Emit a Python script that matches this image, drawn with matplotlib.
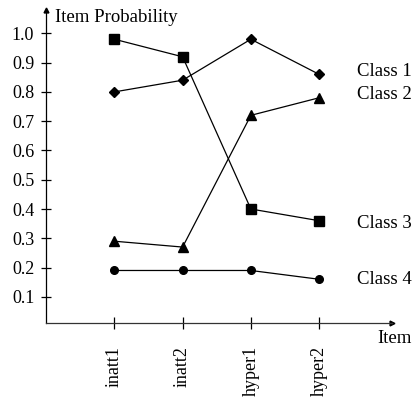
import numpy as np
import matplotlib
matplotlib.use("Agg")
from matplotlib import pyplot as plt

items = ['inatt1', 'inatt2', 'hyper1', 'hyper2']
class1 = [0.80, 0.84, 0.98, 0.86]
class2 = [0.29, 0.27, 0.72, 0.78]
class3 = [0.98, 0.92, 0.40, 0.36]
class4 = [0.19, 0.19, 0.19, 0.16]
class_names = ['Class 1', 'Class 2', 'Class 3', 'Class 4']
label_y = [0.87, 0.79, 0.35, 0.16]
yticks = [0.1, 0.2, 0.3, 0.4, 0.5, 0.6, 0.7, 0.8, 0.9, 1.0]

plt.rcParams['font.family'] = ['Liberation Serif', 'DejaVu Serif']

fig = plt.figure(figsize=(4.15, 3.98), dpi=100)
ax = fig.add_axes([0.111, 0.188, 0.834, 0.787])

x = np.arange(len(items))
ax.plot(x, class1, color='black', lw=0.9, marker='D', ms=5.5)
ax.plot(x, class2, color='black', lw=0.9, marker='^', ms=7)
ax.plot(x, class3, color='black', lw=0.9, marker='s', ms=6.5)
ax.plot(x, class4, color='black', lw=0.9, marker='o', ms=5.5)

for name, yy in zip(class_names, label_y):
    ax.text(3.56, yy, name, fontsize=13.5, va='center', ha='left')

ax.set_xlim(-1.0, 4.07)
ax.set_ylim(0.01, 1.08)
ax.set_xticks(x)
ax.set_xticklabels(items, rotation=90, fontsize=13)
ax.set_yticks(yticks)
ax.set_yticklabels(['%.1f' % v for v in yticks], fontsize=13)
ax.tick_params(axis='y', direction='inout', length=7, width=0.9, pad=5)
ax.tick_params(axis='x', direction='inout', length=9, width=0.9, pad=12)

ax.spines['right'].set_visible(False)
ax.spines['top'].set_visible(False)
ax.spines['left'].set_linewidth(0.9)
ax.spines['bottom'].set_linewidth(0.9)
ax.spines['bottom'].set_color('#333333')

# arrow heads at the ends of the axes
ax.plot(1, 0, '>k', ms=3.5, transform=ax.transAxes, clip_on=False)
ax.plot(0, 1, '^k', ms=3.5, transform=ax.transAxes, clip_on=False)

fig.text(0.132, 0.957, 'Item Probability', fontsize=13.5, va='center')
fig.text(0.993, 0.150, 'Item', fontsize=13.5, va='center', ha='right')

fig.savefig('out.png', dpi=100)
